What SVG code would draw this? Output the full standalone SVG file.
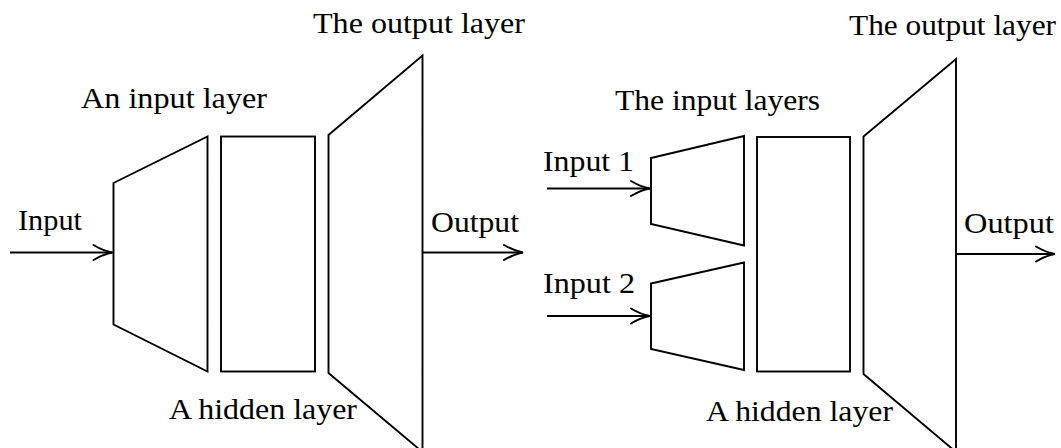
<svg xmlns="http://www.w3.org/2000/svg" width="1061" height="448" viewBox="0 0 1061 448">
  <style>
    .shape { fill: none; stroke: #000; stroke-width: 1.9; stroke-linejoin: miter; }
    .wire { fill: none; stroke: #000; stroke-width: 1.9; }
    .label { font-family: "Liberation Serif", "Times New Roman", serif; font-size: 30px; fill: #000; }
  </style>
  <defs>
    <marker id="arrow" viewBox="-22 -10 24 20" refX="0" refY="0" markerWidth="24" markerHeight="20" markerUnits="userSpaceOnUse" orient="auto">
      <path d="M -19 -7.5 Q -9 -1.5 0 0 Q -9 1.5 -19 7.5" fill="none" stroke="#000" stroke-width="2" stroke-linecap="round"/>
    </marker>
  </defs>
  <rect width="1061" height="448" fill="#fff"/>

  <!-- single-input network -->
  <g id="left-input-layer">
    <polygon class="shape" points="113.5,183 207.5,136.5 207.5,371.5 113.5,324.5"/>
    <text class="label" x="81" y="108" textLength="186" lengthAdjust="spacingAndGlyphs">An input layer</text>
  </g>
  <g id="left-hidden-layer">
    <rect class="shape" x="221" y="136.5" width="94" height="235"/>
    <text class="label" x="169" y="419" textLength="188" lengthAdjust="spacingAndGlyphs">A hidden layer</text>
  </g>
  <g id="left-output-layer">
    <polygon class="shape" points="328.5,135 422.5,55.5 422.5,452 328.5,373"/>
    <text class="label" x="313" y="33" textLength="212" lengthAdjust="spacingAndGlyphs">The output layer</text>
  </g>
  <g id="left-input-label">
    <text class="label" x="18" y="230" textLength="64" lengthAdjust="spacingAndGlyphs">Input</text>
  </g>
  <g id="left-output-label">
    <text class="label" x="431" y="232" textLength="88" lengthAdjust="spacingAndGlyphs">Output</text>
  </g>

  <!-- two-input network -->
  <g id="right-input-layer-1">
    <polygon class="shape" points="651,158 744,136 744,245.5 651,224"/>
  </g>
  <g id="right-input-layer-2">
    <polygon class="shape" points="651,283.5 744,262.5 744,370 651,349"/>
  </g>
  <g id="right-input-layers-label">
    <text class="label" x="615" y="110" textLength="205" lengthAdjust="spacingAndGlyphs">The input layers</text>
  </g>
  <g id="right-hidden-layer">
    <rect class="shape" x="757" y="137" width="93" height="234.5"/>
    <text class="label" x="706" y="421" textLength="187" lengthAdjust="spacingAndGlyphs">A hidden layer</text>
  </g>
  <g id="right-output-layer">
    <polygon class="shape" points="863.5,136.5 956,59 956,452 863.5,374"/>
    <text class="label" x="849" y="35" textLength="207" lengthAdjust="spacingAndGlyphs">The output layer</text>
  </g>
  <g id="right-input-1-label">
    <text class="label" x="543" y="171" textLength="91" lengthAdjust="spacingAndGlyphs">Input 1</text>
  </g>
  <g id="right-input-2-label">
    <text class="label" x="543" y="293" textLength="92" lengthAdjust="spacingAndGlyphs">Input 2</text>
  </g>
  <g id="right-output-label">
    <text class="label" x="964" y="233" textLength="90" lengthAdjust="spacingAndGlyphs">Output</text>
  </g>

  <!-- connectors -->
  <g id="connectors">
    <line class="wire" x1="10" y1="252.5" x2="112.5" y2="252.5" marker-end="url(#arrow)"/>
    <line class="wire" x1="422.5" y1="252.5" x2="523" y2="252.5" marker-end="url(#arrow)"/>
    <line class="wire" x1="547" y1="188.5" x2="650" y2="188.5" marker-end="url(#arrow)"/>
    <line class="wire" x1="547" y1="316" x2="650" y2="316" marker-end="url(#arrow)"/>
    <line class="wire" x1="956" y1="254" x2="1055" y2="254" marker-end="url(#arrow)"/>
  </g>
</svg>
